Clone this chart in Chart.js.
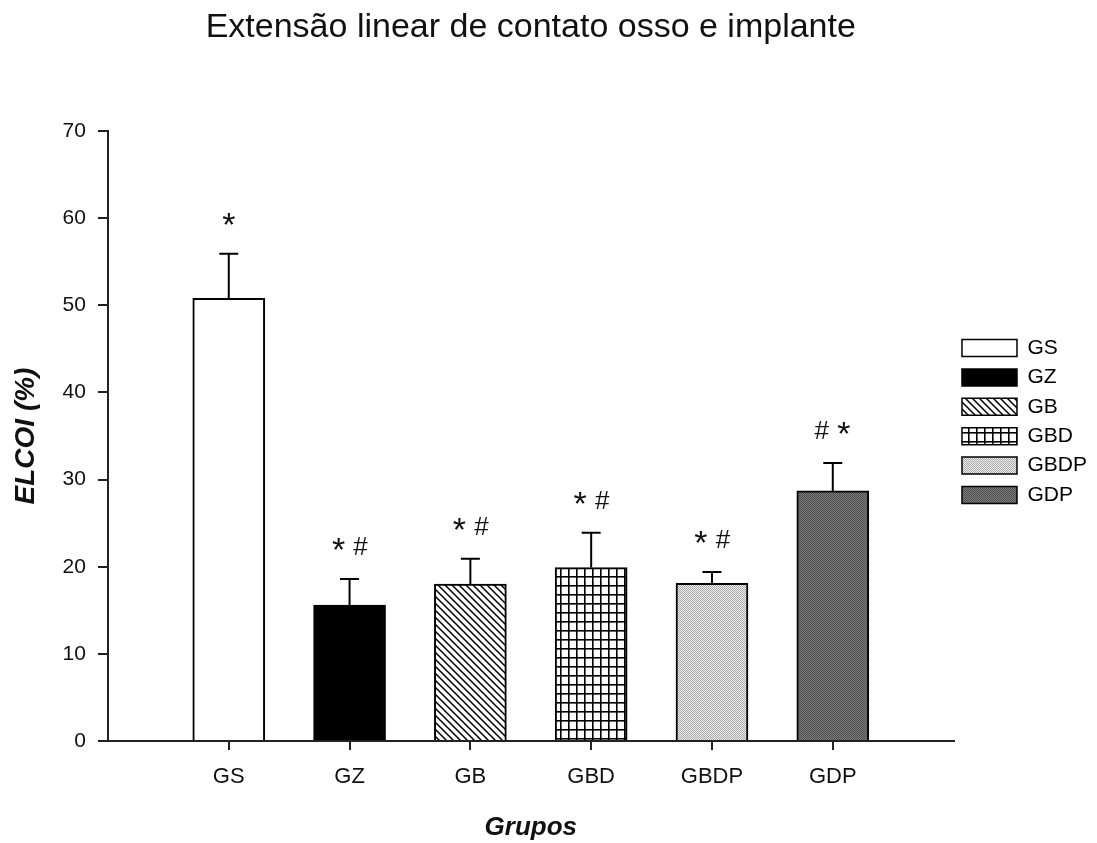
<!DOCTYPE html>
<html lang="pt">
<head>
<meta charset="utf-8">
<title>Extensão linear de contato osso e implante</title>
<script src="https://cdn.jsdelivr.net/npm/chart.js@4.4.1/dist/chart.umd.min.js"></script>
<style>
  html, body { margin: 0; padding: 0; background: #ffffff; }
  #wrap { width: 1097px; height: 843px; }
</style>
</head>
<body>
<div id="wrap"><canvas id="chart" width="1097" height="843"></canvas></div>
<script>
// Groups, means (%) and standard deviations of ELCOI
const groups = ['GS', 'GZ', 'GB', 'GBD', 'GBDP', 'GDP'];
const means = [50.8, 15.6, 18.0, 19.9, 18.1, 28.7];
const deviations = [5.1, 3.0, 2.9, 4.0, 1.3, 3.2];
// Significance marks above each bar
const marks = ['*', '* #', '* #', '* #', '* #', '# *'];
const yTicks = [0, 10, 20, 30, 40, 50, 60, 70];

const FONT = "'Liberation Sans', Arial, sans-serif";
const INK = '#111111';

// Fill patterns, one per group
function tile(w, h, paint) {
  const c = document.createElement('canvas');
  c.width = w; c.height = h;
  const g = c.getContext('2d');
  paint(g, w, h);
  return g.createPattern(c, 'repeat');
}
const fills = [
  '#ffffff',
  '#000000',
  tile(7, 7, (g, w, h) => {          // diagonal hatch
    g.fillStyle = '#fff'; g.fillRect(0, 0, w, h);
    g.strokeStyle = '#000'; g.lineWidth = 1.5;
    g.beginPath();
    g.moveTo(-1, -1); g.lineTo(w + 1, h + 1);
    g.moveTo(-1, h - 1); g.lineTo(1, h + 1);
    g.moveTo(w - 1, -1); g.lineTo(w + 1, 1);
    g.stroke();
  }),
  tile(8, 9, (g, w, h) => {          // square grid
    g.fillStyle = '#fff'; g.fillRect(0, 0, w, h);
    g.fillStyle = '#000';
    g.fillRect(0, 0, 1.6, h);
    g.fillRect(0, 0, w, 1.6);
  }),
  tile(2, 2, (g) => {                // light dotted screen
    g.fillStyle = '#ececec'; g.fillRect(0, 0, 2, 2);
    g.fillStyle = '#aaaaaa'; g.fillRect(0, 0, 1, 1); g.fillRect(1, 1, 1, 1);
  }),
  tile(2, 2, (g) => {                // dark dotted screen
    g.fillStyle = '#7a7a7a'; g.fillRect(0, 0, 2, 2);
    g.fillStyle = '#505050'; g.fillRect(0, 0, 1, 1); g.fillRect(1, 1, 1, 1);
  })
];

// Upper error bars and significance marks
const errorBars = {
  id: 'errorBars',
  afterDatasetsDraw(chart) {
    const ctx = chart.ctx;
    const y = chart.scales.y;
    const meta = chart.getDatasetMeta(0);
    ctx.save();
    meta.data.forEach((bar, i) => {
      const x = bar.x;
      const top = y.getPixelForValue(means[i]);
      const cap = y.getPixelForValue(means[i] + deviations[i]);
      ctx.strokeStyle = '#000';
      ctx.lineWidth = 2;
      ctx.beginPath();
      ctx.moveTo(x, top);
      ctx.lineTo(x, cap);
      ctx.moveTo(x - 9.5, cap);
      ctx.lineTo(x + 9.5, cap);
      ctx.stroke();

      // marks, centred about 33 px above the cap
      const cy = cap - 33;
      const tokens = marks[i].split(' ');
      const step = 22;
      const x0 = x - (tokens.length - 1) * step / 2;
      ctx.fillStyle = INK;
      ctx.textAlign = 'center';
      ctx.textBaseline = 'alphabetic';
      tokens.forEach((t, k) => {
        const tx = x0 + k * step;
        if (t === '*') {
          ctx.font = '34px ' + FONT;
          ctx.fillText(t, tx, cy + 15);
        } else {
          ctx.font = '26px ' + FONT;
          ctx.fillText(t, tx, cy + 9.3);
        }
      });
    });
    ctx.restore();
  }
};

new Chart(document.getElementById('chart'), {
  type: 'bar',
  data: {
    datasets: [{
      data: groups.map((g, i) => ({ x: i + 1, y: means[i] })),
      backgroundColor: fills,
      borderColor: '#000000',
      borderWidth: 2,
      barThickness: 72
    }]
  },
  options: {
    responsive: false,
    animation: false,
    devicePixelRatio: 1,
    layout: { padding: { left: 0, right: 0, top: 0, bottom: 0 } },
    plugins: {
      tooltip: { enabled: false },
      title: {
        display: true,
        text: 'Extensão linear de contato osso e implante',
        fullSize: false,
        color: INK,
        font: { family: FONT, size: 34, weight: 'normal' },
        padding: { top: 7, bottom: 83.2 }
      },
      legend: {
        position: 'right',
        align: 'center',
        onClick: null,
        labels: {
          boxWidth: 55,
          boxHeight: 17,
          padding: 8.4,
          color: INK,
          font: { family: FONT, size: 21 },
          generateLabels: () => groups.map((g, i) => ({
            text: g,
            fillStyle: fills[i],
            strokeStyle: '#000000',
            lineWidth: 1.5,
            hidden: false,
            index: i,
            datasetIndex: 0
          }))
        }
      }
    },
    scales: {
      x: {
        type: 'linear',
        min: 0,
        max: 7,
        offset: false,
        afterBuildTicks: (s) => { s.ticks = groups.map((g, i) => ({ value: i + 1 })); },
        grid: { offset: false, drawOnChartArea: false, drawTicks: true, tickLength: 9, color: '#222', lineWidth: 2 },
        border: { display: true, color: '#222', width: 2 },
        ticks: {
          autoSkip: false,
          maxRotation: 0,
          padding: 14,
          color: INK,
          font: { family: FONT, size: 22 },
          callback: (v) => groups[v - 1] ?? ''
        },
        title: {
          display: true,
          text: 'Grupos',
          color: INK,
          font: { family: FONT, size: 26, weight: 'bold', style: 'italic' },
          padding: { top: 7.4, bottom: 0 }
        }
      },
      y: {
        min: 0,
        max: 70,
        afterBuildTicks: (s) => { s.ticks = yTicks.map(v => ({ value: v })); },
        grid: { drawOnChartArea: false, drawTicks: true, tickLength: 10, color: '#222', lineWidth: 2 },
        border: { display: true, color: '#222', width: 2 },
        ticks: {
          padding: 12,
          color: INK,
          font: { family: FONT, size: 21 }
        },
        title: {
          display: true,
          text: 'ELCOI (%)',
          color: INK,
          font: { family: FONT, size: 28, weight: 'bold', style: 'italic' },
          padding: { top: 9.2, bottom: 7.8 }
        }
      }
    }
  },
  plugins: [errorBars]
});
</script>
</body>
</html>
